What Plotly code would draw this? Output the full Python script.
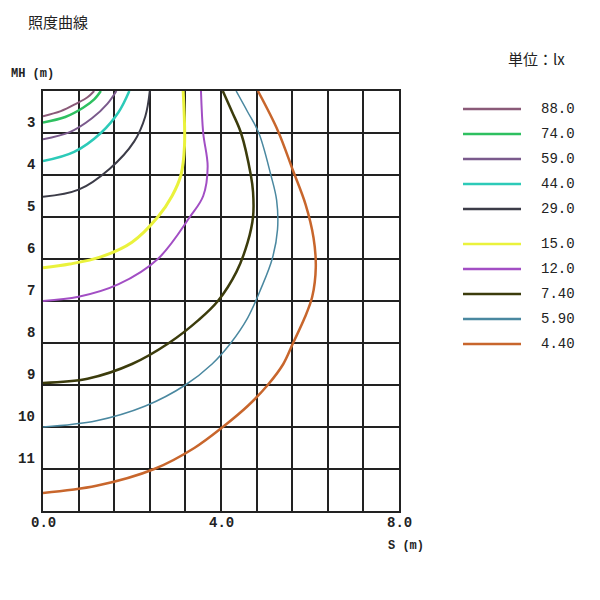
import plotly.graph_objects as go

levels = ['88.0', '74.0', '59.0', '44.0', '29.0', '15.0', '12.0', '7.40', '5.90', '4.40']
colors = ['#8a5a78', '#2ec060', '#7a5a8c', '#2ccab8', '#3c3c48',
          '#eaf23c', '#a24ec4', '#3c3c0c', '#4a88a0', '#c8662c']
widths = [2, 2.5, 2, 2.5, 2, 3, 2, 2.5, 1.5, 2.5]

# curve points: S (m) and MH (m)
curve_s = [
    [0.0, 0.4, 0.75, 1.0, 1.15],
    [0.0, 0.5, 0.9, 1.15, 1.3],
    [0.0, 0.6, 1.1, 1.45, 1.65],
    [0.0, 0.7, 1.3, 1.7, 1.94],
    [0.0, 0.8, 1.5, 2.05, 2.3, 2.4],
    [0.0, 0.6, 1.3, 2.0, 2.58, 2.9, 3.1, 3.18, 3.15],
    [0.0, 0.8, 1.7, 2.58, 3.3, 3.6, 3.7, 3.6, 3.55],
    [0.0, 1.0, 2.0, 2.83, 3.5, 3.93, 4.35, 4.6, 4.72, 4.72, 4.67, 4.45, 4.25, 4.04],
    [0.0, 1.2, 2.3, 3.2, 3.8, 4.22, 4.6, 4.9, 5.15, 5.27, 5.25, 5.12, 4.85, 4.6, 4.34],
    [0.0, 1.2, 2.5, 3.4, 4.04, 4.6, 5.05, 5.4, 5.62, 5.88, 6.05, 6.13, 6.08, 5.9, 5.62, 5.28, 4.83],
]
curve_mh = [
    [2.6, 2.48, 2.3, 2.15, 2.0],
    [2.75, 2.62, 2.4, 2.2, 2.0],
    [3.15, 2.98, 2.65, 2.3, 2.0],
    [3.67, 3.45, 3.0, 2.5, 2.0],
    [4.52, 4.35, 3.85, 3.2, 2.6, 2.0],
    [6.21, 6.12, 5.95, 5.6, 5.0, 4.5, 4.0, 3.3, 2.0],
    [7.0, 6.9, 6.6, 6.0, 5.0, 4.5, 3.8, 3.0, 2.0],
    [8.95, 8.85, 8.5, 8.0, 7.45, 7.0, 6.3, 5.6, 5.0, 4.4, 4.0, 3.0, 2.5, 2.0],
    [10.0, 9.85, 9.5, 9.0, 8.5, 8.0, 7.4, 6.7, 6.0, 5.3, 4.6, 4.0, 3.0, 2.5, 2.0],
    [11.57, 11.4, 11.0, 10.5, 10.0, 9.5, 9.0, 8.5, 8.0, 7.4, 6.9, 6.2, 5.5, 4.7, 3.9, 2.95, 2.0],
]

x_ticks = [0.0, 4.0, 8.0]
y_ticks = [3, 4, 5, 6, 7, 8, 9, 10, 11]

mono = 'Liberation Mono'
OFF = 7  # page renders shifted by a few px; compensate


def px(v):
    return (v - OFF) / 600


def py(v):
    return 1 - (v - OFF) / 600


fig = go.Figure()
for lv, col, w, xs, ys in zip(levels, colors, widths, curve_s, curve_mh):
    fig.add_trace(go.Scatter(x=xs, y=ys, mode='lines', name=lv,
                             line=dict(color=col, width=w, shape='spline', smoothing=1.0),
                             showlegend=False, cliponaxis=True))

# legend drawn by hand (two blocks, 25 px per row)
for i, (lv, col) in enumerate(zip(levels, colors)):
    row = 108 + 25 * i + (10 if i >= 5 else 0)
    fig.add_shape(type='line', xref='paper', yref='paper', x0=px(462), x1=px(520),
                  y0=py(row), y1=py(row), line=dict(color=col, width=2.5))
    fig.add_annotation(xref='paper', yref='paper', x=px(538), y=py(row), text=lv,
                       showarrow=False, xanchor='left', yanchor='middle',
                       font=dict(family=mono, size=14, color='#222'))

fig.update_xaxes(domain=[px(42), px(398)], range=[0, 8], dtick=0.8, tick0=0,
                 showgrid=True, gridcolor='#222', gridwidth=2, showticklabels=False,
                 zeroline=False, showline=True, linecolor='#222', linewidth=2, mirror=True)
fig.update_yaxes(domain=[py(510), py(90)], range=[12, 2], dtick=1, tick0=2,
                 showgrid=True, gridcolor='#222', gridwidth=2, showticklabels=False,
                 zeroline=False, showline=True, linecolor='#222', linewidth=2, mirror=True)

for t in x_ticks:
    fig.add_annotation(x=t, y=12, xref='x', yref='y', text=f'<b>{t:.1f}</b>', showarrow=False,
                       yanchor='top', yshift=-2, font=dict(family=mono, size=14, color='#222'))
for t in y_ticks:
    fig.add_annotation(x=0, y=t, xref='x', yref='y', text=f'<b>{t}</b>', showarrow=False,
                       xanchor='right', yanchor='bottom', xshift=-6,
                       font=dict(family=mono, size=14, color='#222'))

fig.add_annotation(xref='paper', yref='paper', x=px(8), y=py(73), text='<b>MH (m)</b>',
                   showarrow=False, xanchor='left', yanchor='middle',
                   font=dict(family=mono, size=12, color='#222'))
fig.add_annotation(xref='paper', yref='paper', x=px(385), y=py(545), text='<b>S (m)</b>',
                   showarrow=False, xanchor='left', yanchor='middle',
                   font=dict(family=mono, size=12, color='#222'))
fig.add_annotation(xref='paper', yref='paper', x=px(25), y=py(20), text='照度曲線',
                   showarrow=False, xanchor='left', yanchor='middle',
                   font=dict(family='Noto Sans CJK JP', size=15, color='#222'))
fig.add_annotation(xref='paper', yref='paper', x=px(505), y=py(57), text='単位：lx',
                   showarrow=False, xanchor='left', yanchor='middle',
                   font=dict(family='Noto Sans CJK JP', size=15, color='#222'))

fig.update_layout(width=600, height=600, margin=dict(l=0, r=0, t=0, b=0),
                  paper_bgcolor='white', plot_bgcolor='white', showlegend=False)

fig.write_html("out.html")
